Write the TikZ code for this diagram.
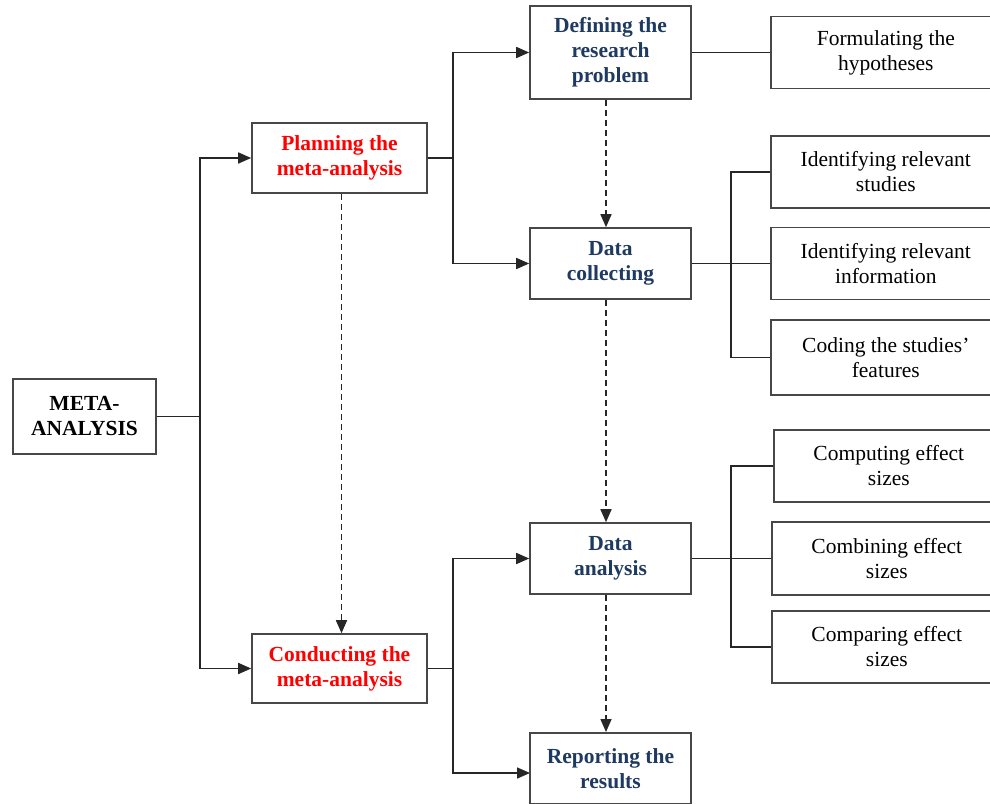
\documentclass[tikz,border=0pt]{standalone}
\usepackage{fontspec}
\setmainfont{Liberation Serif}
\usetikzlibrary{arrows.meta}
\definecolor{navy}{HTML}{1F3A60}
\definecolor{edge}{HTML}{474747}
\definecolor{wire}{HTML}{262626}
\tikzset{
  box/.style={draw=edge, line width=1.6pt, fill=white, align=center, inner sep=2pt,
    font=\fontsize{21.5}{25}\selectfont},
  mid/.style={box, minimum width=161pt, font=\fontsize{21.5}{25}\selectfont\bfseries, text=navy},
  red/.style={box, minimum width=175pt, font=\fontsize{21.5}{25}\selectfont\bfseries, text=red},
  leaf/.style={box, minimum width=230pt, minimum height=72pt, anchor=west},
  conn/.style={draw=wire, line width=1.6pt},
  arr/.style={conn, -{Triangle[length=13pt,width=11pt]}},
  dsh/.style={arr, dash pattern=on 6pt off 4pt}
}
\begin{document}
\begin{tikzpicture}[x=1pt,y=-1pt]
\useasboundingbox (0,0) rectangle (990,803);
\clip (0,0) rectangle (990,803);
% main boxes
\node[box, minimum width=143pt, minimum height=75pt, font=\fontsize{21.5}{25}\selectfont\bfseries] (meta) at (84.5,416.5) {META-\\ANALYSIS};
\node[red, minimum height=70pt] (plan) at (339.5,158) {Planning the\\meta-analysis};
\node[red, minimum height=69pt] (cond) at (339.5,668.5) {Conducting the\\meta-analysis};
\node[mid, minimum height=93pt] (def) at (610.5,52.5) {Defining the\\research\\problem};
\node[mid, minimum height=71pt] (coll) at (610.5,263.5) {Data\\collecting};
\node[mid, minimum height=71pt] (anal) at (610.5,558.5) {Data\\analysis};
\node[mid, minimum height=71pt, anchor=north] (rep) at (610.5,732) {Reporting the\\results};
% leaves
\node[leaf] (form) at (770,52.5) {Formulating the\\hypotheses};
\node[leaf] (ids) at (770,172) {Identifying relevant\\studies};
\node[leaf] (idi) at (770,263.5) {Identifying relevant\\information};
\node[leaf, minimum height=75pt] (code) at (770,357.5) {Coding the studies'\\features};
\node[leaf] (comp) at (773,466) {Computing effect\\sizes};
\node[leaf, minimum height=73pt] (comb) at (771,558.5) {Combining effect\\sizes};
\node[leaf] (cmpr) at (771,647) {Comparing effect\\sizes};
% junction coordinates
\coordinate (j1) at (200,416.5);
\coordinate (j2) at (453,158);
\coordinate (j3) at (453,668.5);
\coordinate (j4) at (731,263.5);
\coordinate (j5) at (731,558.5);
\coordinate (repin) at (530,773);
% meta -> plan/cond
\draw[conn] (meta.east) -- (j1);
\draw[arr] (j1) |- (plan.west);
\draw[arr] (j1) |- (cond.west);
% plan -> def/coll
\draw[conn] (plan.east) -- (j2);
\draw[arr] (j2) |- (def.west);
\draw[arr] (j2) |- (coll.west);
% cond -> anal/rep
\draw[conn] (cond.east) -- (j3);
\draw[arr] (j3) |- (anal.west);
\draw[arr] (j3) |- (repin);
% def -> form
\draw[conn] (def.east) -- (form.west);
% coll -> leaves
\draw[conn] (coll.east) -- (j4);
\draw[conn] (j4) |- (ids.west);
\draw[conn] (j4) |- (idi.west);
\draw[conn] (j4) |- (code.west);
% anal -> leaves
\draw[conn] (anal.east) -- (j5);
\draw[conn] (j5) |- (comp.west);
\draw[conn] (j5) |- (comb.west);
\draw[conn] (j5) |- (cmpr.west);
% dashed
\draw[dsh] ([xshift=2pt]plan.south) -- ([xshift=2pt]cond.north);
\draw[dsh] ([xshift=-4.5pt]def.south) -- ([xshift=-4.5pt]coll.north);
\draw[dsh] ([xshift=-4.5pt]coll.south) -- ([xshift=-4.5pt]anal.north);
\draw[dsh] ([xshift=-4.5pt]anal.south) -- ([xshift=-4.5pt]rep.north);
\end{tikzpicture}
\end{document}
